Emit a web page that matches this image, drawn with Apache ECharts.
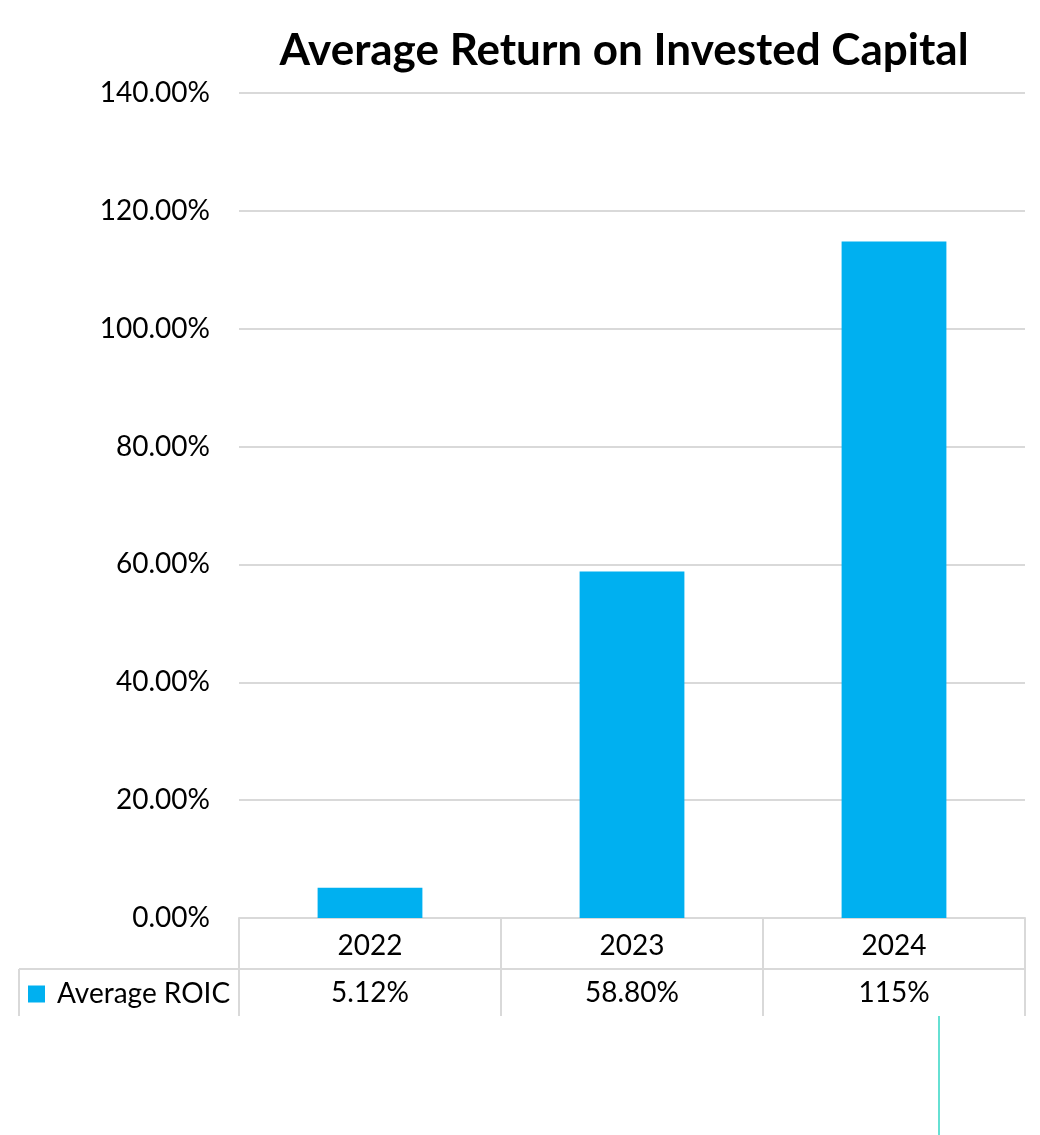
<!DOCTYPE html>
<html>
<head>
<meta charset="utf-8">
<script src="https://cdn.jsdelivr.net/npm/echarts@6/dist/echarts.min.js"></script>
<style>
html,body{margin:0;padding:0;background:#fff;}
#chart{width:1040px;height:1135px;}
</style>
</head>
<body>
<div id="chart"></div>
<script>
const titleText = 'Average Return on Invested Capital';
const seriesName = 'Average ROIC';
const categories = ['2022', '2023', '2024'];
const roicValues = [5.12, 58.80, 114.8];
const tableLabels = ['5.12%', '58.80%', '115%'];
const yMin = 0, yMax = 140, yInterval = 20;

const FONT = 'Lato';
const GRID = {left: 239, right: 15, top: 93, bottom: 217};
const LINE = '#d9d9d9';

const chart = echarts.init(document.getElementById('chart'), null, {renderer: 'canvas'});
const option = {
  backgroundColor: '#fff',
  animation: false,
  textStyle: {fontFamily: FONT},
  title: {
    text: titleText,
    left: 619, top: 24, textAlign: 'center',
    textStyle: {fontFamily: FONT, fontWeight: 'bold', fontSize: 44, color: '#000'}
  },
  legend: {
    data: [seriesName],
    left: 28, top: 980, padding: 0,
    icon: 'rect', itemWidth: 17, itemHeight: 17,
    textStyle: {fontFamily: FONT, fontSize: 28, color: '#000', padding: [0, 0, 0, 7]}
  },
  grid: GRID,
  xAxis: [{
    type: 'category', data: categories, position: 'bottom',
    axisLine: {show: true, lineStyle: {color: LINE, width: 2}},
    axisTick: {show: true, length: 98, lineStyle: {color: LINE, width: 2}},
    axisLabel: {fontFamily: FONT, fontSize: 28, color: '#000', margin: 14}
  }, {
    type: 'category', data: tableLabels, position: 'bottom', offset: 51,
    axisLine: {show: true, lineStyle: {color: LINE, width: 2}},
    axisTick: {show: false},
    axisLabel: {fontFamily: FONT, fontSize: 28, color: '#000', margin: 10}
  }],
  yAxis: {
    type: 'value', min: yMin, max: yMax, interval: yInterval,
    axisLine: {show: false}, axisTick: {show: false},
    splitLine: {lineStyle: {color: LINE, width: 2}},
    axisLabel: {fontFamily: FONT, fontSize: 28, color: '#000', margin: 29,
      formatter: v => v.toFixed(2) + '%'}
  },
  series: [{
    name: seriesName, type: 'bar', data: roicValues, xAxisIndex: 0,
    barWidth: '40%',
    itemStyle: {color: '#00b0f0'}
  }]
};
chart.setOption(option);

// table extension lines (legend column) and stray line, positioned from the axis scale
const y0 = chart.convertToPixel({yAxisIndex: 0}, 0);
const rowY = y0 + 51;
const bottomY = y0 + 98;
const lastCenter = chart.convertToPixel({xAxisIndex: 0}, categories[2]);
chart.setOption({
  graphic: [
    {type: 'line', shape: {x1: 19, y1: rowY, x2: GRID.left, y2: rowY}, style: {stroke: LINE, lineWidth: 2}},
    {type: 'line', shape: {x1: 19, y1: rowY, x2: 19, y2: bottomY}, style: {stroke: LINE, lineWidth: 2}},
    {type: 'line', shape: {x1: lastCenter + 45, y1: bottomY, x2: lastCenter + 45, y2: 1135}, style: {stroke: '#33d6c4', lineWidth: 1.5}}
  ]
});
</script>
</body>
</html>
